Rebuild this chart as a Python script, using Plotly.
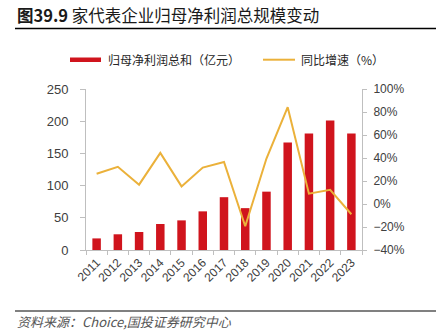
import plotly.graph_objects as go

years = ["2011", "2012", "2013", "2014", "2015", "2016", "2017",
         "2018", "2019", "2020", "2021", "2022", "2023"]
profit_total = [18, 24.4, 28, 40.4, 46, 60, 82, 65, 90.6, 167, 181, 201, 181]
yoy_growth = [26.3, 32.3, 16.8, 44.4, 15.3, 31.7, 36.6, -19.3, 39.5, 84.2, 9.0, 12.4, -8.9]

left_ticks = [0, 50, 100, 150, 200, 250]
right_ticks = [-40, -20, 0, 20, 40, 60, 80, 100]
right_labels = ["−40%", "−20%", "0%", "20%", "40%", "60%", "80%", "100%"]

W, H = 436, 336
L, R, T, B = 86, 74, 89, 86
PW, PH = W - L - R, H - T - B

BAR_RED = "#D0141D"
LINE_GOLD = "#EBB13A"
CJK = "Noto Sans CJK SC"
NUM = "Liberation Sans"


def px_x(x):
    return (x - L) / PW


def px_y(y):
    return (H - B - y) / PH


fig = go.Figure()
fig.add_trace(go.Bar(
    x=years, y=profit_total, name="归母净利润总和（亿元）",
    marker=dict(color=BAR_RED, line=dict(width=0)), width=0.4,
    yaxis="y", showlegend=False,
))
fig.add_trace(go.Scatter(
    x=years, y=yoy_growth, name="同比增速（%）", mode="lines",
    line=dict(color=LINE_GOLD, width=2), yaxis="y2", showlegend=False,
))

axis_grey = "#BFBFBF"
fig.update_layout(
    width=W, height=H,
    margin=dict(l=L, r=R, t=T, b=B),
    paper_bgcolor="white", plot_bgcolor="white",
    bargap=0.6,
    xaxis=dict(
        type="category", tickangle=-45, tickson="boundaries",
        ticks="outside", ticklen=4, tickcolor=axis_grey,
        showline=True, linecolor=axis_grey, linewidth=1,
        showgrid=False, tickfont=dict(family=NUM, size=12, color="#404040"),
    ),
    yaxis=dict(
        range=[0, 250], tickvals=left_ticks, ticks="outside", ticklen=5,
        tickcolor=axis_grey, showline=True, linecolor=axis_grey, linewidth=1,
        showgrid=False, zeroline=False, ticklabelstandoff=9,
        tickfont=dict(family=NUM, size=13, color="#404040"),
    ),
    yaxis2=dict(
        range=[-40, 100], tickvals=right_ticks, ticktext=right_labels,
        overlaying="y", side="right", ticks="outside", ticklen=4,
        tickcolor=axis_grey, showline=True, linecolor=axis_grey, linewidth=1,
        showgrid=False, zeroline=False, ticklabelstandoff=4,
        tickfont=dict(family=NUM, size=12, color="#404040"),
    ),
)

shapes = []
annotations = []

# title and its underline
annotations.append(dict(
    xref="paper", yref="paper", x=px_x(15), y=px_y(15),
    xanchor="left", yanchor="middle", showarrow=False,
    text="<b>图39.9</b> 家代表企业归母净利润总规模变动",
    font=dict(family=CJK, size=16.5, color="#1a1a1a"),
))
shapes.append(dict(type="line", xref="paper", yref="paper",
                   x0=px_x(15), x1=px_x(436), y0=px_y(28.5), y1=px_y(28.5),
                   line=dict(color="#000000", width=1.5)))

# legend
shapes.append(dict(type="rect", xref="paper", yref="paper",
                   x0=px_x(70), x1=px_x(101), y0=px_y(62), y1=px_y(57.5),
                   fillcolor=BAR_RED, line=dict(width=0)))
annotations.append(dict(
    xref="paper", yref="paper", x=px_x(106), y=px_y(59.7),
    xanchor="left", yanchor="middle", showarrow=False,
    text="归母净利润总和（亿元）", font=dict(family=CJK, size=12, color="#262626"),
))
shapes.append(dict(type="line", xref="paper", yref="paper",
                   x0=px_x(263), x1=px_x(295), y0=px_y(59.7), y1=px_y(59.7),
                   line=dict(color=LINE_GOLD, width=2)))
annotations.append(dict(
    xref="paper", yref="paper", x=px_x(299), y=px_y(59.7),
    xanchor="left", yanchor="middle", showarrow=False,
    text="同比增速（%）", font=dict(family=CJK, size=12, color="#262626"),
))

# source note
shapes.append(dict(type="line", xref="paper", yref="paper",
                   x0=px_x(15), x1=px_x(436), y0=px_y(311), y1=px_y(311),
                   line=dict(color="#808080", width=2)))
annotations.append(dict(
    xref="paper", yref="paper", x=px_x(15), y=px_y(321),
    xanchor="left", yanchor="middle", showarrow=False,
    text="<i>资料来源：Choice,国投证券研究中心</i>",
    font=dict(family=CJK, size=13, color="#555555"),
))

fig.update_layout(shapes=shapes, annotations=annotations)
fig.write_html("out.html")
